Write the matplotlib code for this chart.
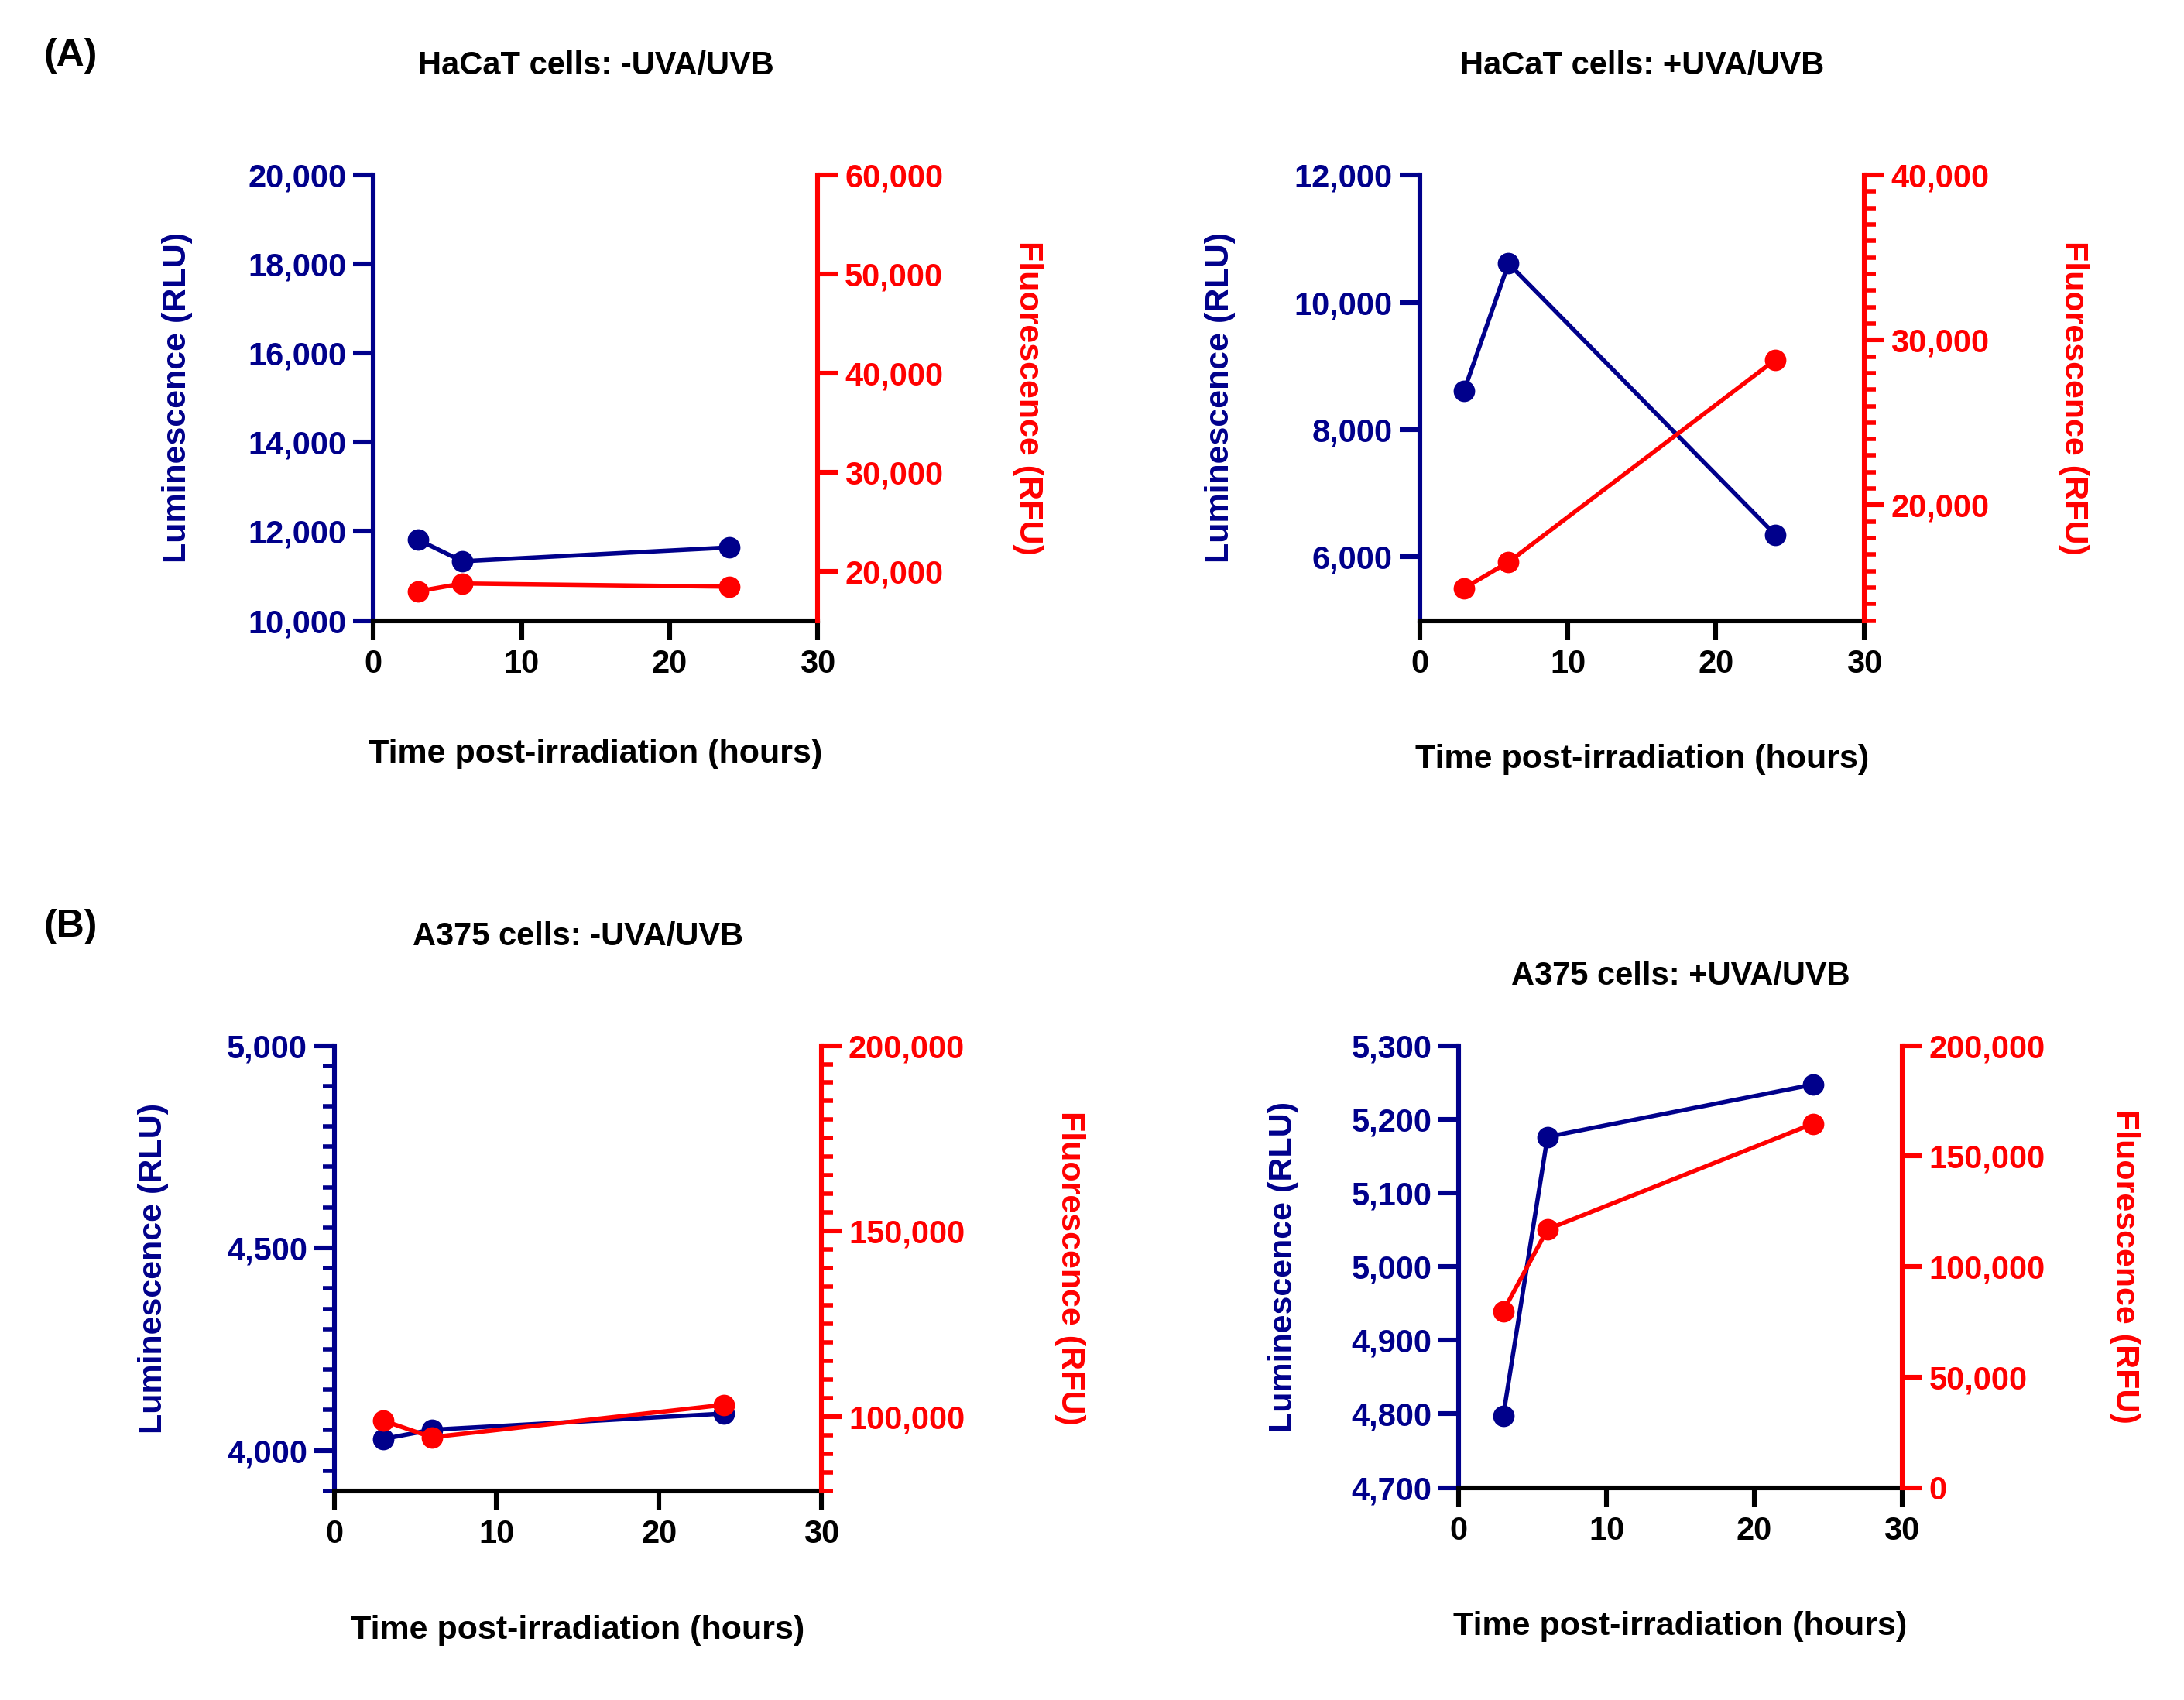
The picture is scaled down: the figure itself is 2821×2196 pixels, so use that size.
import matplotlib.pyplot as plt
from matplotlib.ticker import MultipleLocator, FuncFormatter

plt.rcParams['font.family'] = ['Liberation Sans', 'DejaVu Sans']
plt.rcParams['font.weight'] = 'bold'
plt.rcParams['axes.labelweight'] = 'bold'

BLUE = '#00008B'
RED = '#FF0000'

# time points (hours after irradiation)
hours = [3, 6, 24]

hacat_dark_lum = [11815, 11330, 11640]
hacat_dark_flu = [17950, 18740, 18420]
hacat_uv_lum = [8610, 10610, 6350]
hacat_uv_flu = [14960, 16540, 28800]
a375_dark_lum = [4028, 4051, 4091]
a375_dark_flu = [98980, 94460, 103200]
a375_uv_lum = [4797, 5176, 5247]
a375_uv_flu = [79750, 116830, 164630]

titles = ["HaCaT cells: -UVA/UVB", "HaCaT cells: +UVA/UVB",
          "A375 cells: -UVA/UVB", "A375 cells: +UVA/UVB"]
lum_series = [hacat_dark_lum, hacat_uv_lum, a375_dark_lum, a375_uv_lum]
flu_series = [hacat_dark_flu, hacat_uv_flu, a375_dark_flu, a375_uv_flu]

# axis ranges: (low, high, major step, minor step)
lum_axes = [(10000, 20000, 2000, None), (5000, 12000, 2000, None),
            (3900, 5000, 500, 50), (4700, 5300, 100, None)]
flu_axes = [(15000, 60000, 10000, None), (13000, 40000, 10000, 1000),
            (80000, 200000, 50000, 5000), (0, 200000, 50000, None)]

# layout (figure fractions)
rects = [[0.171, 0.635, 0.2035, 0.262], [0.650, 0.635, 0.2035, 0.262],
         [0.153, 0.123, 0.2232, 0.262], [0.668, 0.125, 0.2028, 0.260]]
title_y = [0.9615, 0.9615, 0.449, 0.426]
xlab_y = [-0.30, -0.3125, -0.3125, -0.314]
ylab_left = [-0.442, -0.448, -0.371, -0.396]
ylab_right = [1.473, 1.47, 1.509, 1.503]

fmt = FuncFormatter(lambda v, p: f"{v:,.0f}")

fig = plt.figure(figsize=(2821 / 200, 2196 / 200), dpi=200)

for i in range(4):
    ax = fig.add_axes(rects[i])
    ax2 = ax.twinx()

    lo, hi, step, minor = lum_axes[i]
    ax.set_ylim(lo, hi)
    ax.yaxis.set_major_locator(MultipleLocator(step))
    if minor:
        ax.yaxis.set_minor_locator(MultipleLocator(minor))
    ax.yaxis.set_major_formatter(fmt)

    lo, hi, step, minor = flu_axes[i]
    ax2.set_ylim(lo, hi)
    ax2.yaxis.set_major_locator(MultipleLocator(step))
    if minor:
        ax2.yaxis.set_minor_locator(MultipleLocator(minor))
    ax2.yaxis.set_major_formatter(fmt)

    ax.set_xlim(0, 30)
    ax.xaxis.set_major_locator(MultipleLocator(10))

    for s in ['top', 'right']:
        ax.spines[s].set_visible(False)
    for s in ['top', 'left', 'bottom']:
        ax2.spines[s].set_visible(False)
    ax.spines['left'].set_color(BLUE)
    ax.spines['bottom'].set_color('black')
    ax2.spines['right'].set_color(RED)
    for sp in [ax.spines['left'], ax.spines['bottom'], ax2.spines['right']]:
        sp.set_linewidth(2.2)

    ax.tick_params(axis='y', which='major', colors=BLUE, length=9.5, width=2.2,
                   labelsize=15, pad=3)
    ax.tick_params(axis='y', which='minor', colors=BLUE, length=5.5, width=2.0)
    ax2.tick_params(axis='y', which='major', colors=RED, length=9.5, width=2.2,
                    labelsize=15, pad=3)
    ax2.tick_params(axis='y', which='minor', colors=RED, length=5.5, width=2.0)
    ax.tick_params(axis='x', colors='black', length=9, width=2.2, labelsize=15, pad=4)

    ax.plot(hours, lum_series[i], color=BLUE, lw=2.0, marker='o', ms=9,
            clip_on=False, zorder=3)
    ax2.plot(hours, flu_series[i], color=RED, lw=2.0, marker='o', ms=9,
             clip_on=False, zorder=3)

    ax.set_xlabel("Time post-irradiation (hours)", fontsize=15.5,
                  fontweight='bold', va='center')
    ax.xaxis.set_label_coords(0.5, xlab_y[i])

    ax.set_ylabel("Luminescence (RLU)", color=BLUE, fontsize=15.5, fontweight='bold')
    ax.yaxis.set_label_coords(ylab_left[i], 0.5)
    ax.yaxis.label.set_verticalalignment('center')

    ax2.set_ylabel("Fluorescence (RFU)", color=RED, fontsize=15.5,
                   fontweight='bold', rotation=270)
    ax2.yaxis.set_label_coords(ylab_right[i], 0.5)
    ax2.yaxis.label.set_verticalalignment('center')

    cx = rects[i][0] + rects[i][2] / 2
    fig.text(cx, title_y[i], titles[i], ha='center', va='center', fontsize=15)

fig.text(0.020, 0.967, "(A)", ha='left', va='center', fontsize=18)
fig.text(0.020, 0.455, "(B)", ha='left', va='center', fontsize=18)

fig.savefig("out.png", dpi=200)
